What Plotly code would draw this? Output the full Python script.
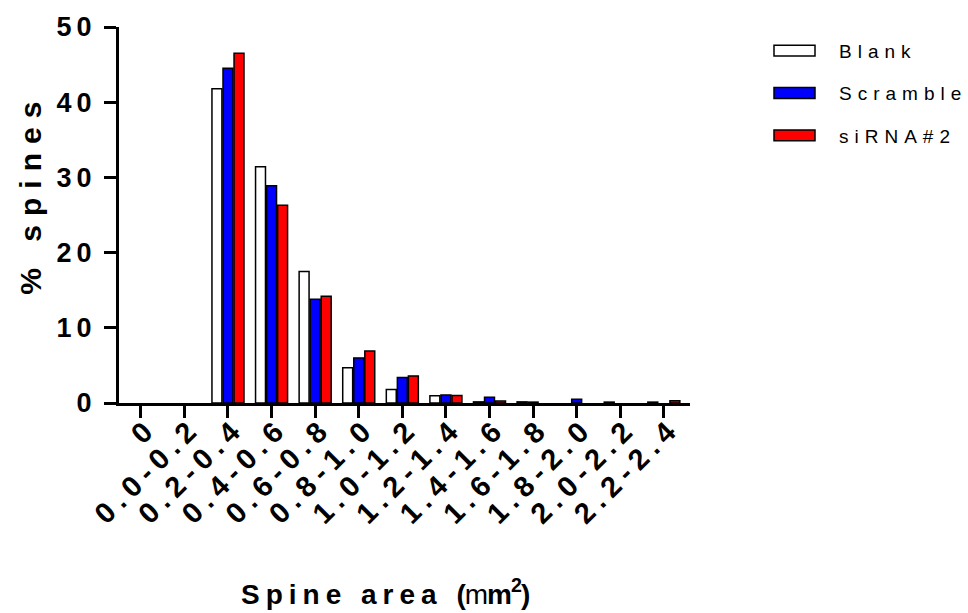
import plotly.graph_objects as go

categories = ["0", "0.0-0.2", "0.2-0.4", "0.4-0.6", "0.6-0.8", "0.8-1.0", "1.0-1.2",
              "1.2-1.4", "1.4-1.6", "1.6-1.8", "1.8-2.0", "2.0-2.2", "2.2-2.4"]
blank = [0, 0, 41.8, 31.4, 17.5, 4.7, 1.8, 0.95, 0.15, 0.15, 0, 0.12, 0.12]
scramble = [0, 0, 44.5, 28.9, 13.8, 6.0, 3.4, 1.05, 0.75, 0.12, 0.5, 0, 0]
sirna = [0, 0, 46.5, 26.3, 14.2, 6.9, 3.6, 1.0, 0.25, 0, 0, 0, 0.3]

series_names = ["Blank", "Scramble", "siRNA#2"]
series_colors = ["#ffffff", "#0000ff", "#ff0000"]
series_values = [blank, scramble, sirna]

y_ticks = [0, 10, 20, 30, 40, 50]

FONT = "Liberation Sans, Arial, sans-serif"
W, H = 968, 613
L, R, T, B = 119, 690, 24, 403
LEG_SP = 6


def px(x):
    return (x - L) / (R - L)


def py(y):
    return (B - y) / (B - T)


fig = go.Figure()
for name, color, vals in zip(series_names, series_colors, series_values):
    fig.add_trace(go.Bar(
        x=categories, y=vals, name=name,
        marker=dict(color=color,
                    line=dict(color="black",
                              width=[1.5 if v > 0 else 0 for v in vals])),
        showlegend=False,
    ))

# custom legend (wide boxes like the reference)
for i, (name, color) in enumerate(zip(series_names, series_colors)):
    yc = 47.8 + 42.7 * i
    fig.add_shape(type="rect", xref="paper", yref="paper",
                  x0=px(774), x1=px(815), y0=py(yc + 5.5), y1=py(yc - 5.5),
                  fillcolor=color, line=dict(color="black", width=1.5))
    fig.add_annotation(xref="paper", yref="paper",
                       x=px(836.5 + LEG_SP * len(name) / 2), y=py(yc + 1),
                       xanchor="left", yanchor="middle", showarrow=False,
                       text=name, font=dict(family=FONT, size=19, color="black"))

# axis titles (annotation indices 3 and 4)
fig.add_annotation(xref="paper", yref="paper", x=px(385), y=py(594),
                   xanchor="center", yanchor="middle", showarrow=False,
                   text="Spine area <span style='letter-spacing:-1px'>(<span style='font-weight:normal'>m</span>m<sup>2</sup>)</span>",
                   font=dict(family=FONT, size=28, color="black", weight="bold"))
fig.add_annotation(xref="paper", yref="paper", x=px(31), y=py(192),
                   xanchor="center", yanchor="middle", showarrow=False, textangle=-90,
                   text="% spines",
                   font=dict(family=FONT, size=30, color="black", weight="bold"))

fig.update_layout(
    width=W, height=H,
    margin=dict(l=L, r=W - R, t=T, b=H - B, pad=0),
    paper_bgcolor="white", plot_bgcolor="white",
    barmode="group", bargap=0.24, bargroupgap=0.1,
    font=dict(family=FONT, color="black"),
)
fig.update_xaxes(
    type="category", range=[-0.5, 12.6],
    showline=True, linewidth=3, linecolor="black",
    ticks="outside", ticklen=12, tickwidth=3, tickcolor="black",
    tickangle=-45, ticklabelstandoff=-19, ticklabelshift=8,
    tickfont=dict(family=FONT, size=29, color="black", weight="bold"),
    showgrid=False, zeroline=False,
)
fig.update_yaxes(
    range=[0, 50], tickvals=y_ticks,
    showline=True, linewidth=3, linecolor="black",
    ticks="outside", ticklen=12, tickwidth=3, tickcolor="black",
    ticklabelstandoff=2,
    tickfont=dict(family=FONT, size=27, color="black", weight="bold"),
    showgrid=False, zeroline=False,
)

post = """
document.body.style.margin='0';
var gd=document.getElementById('{plot_id}');
function ls(sel,v){gd.querySelectorAll(sel).forEach(function(t){t.style.letterSpacing=v;});}
ls('.xtick text','6.5px');
ls('.ytick text','5px');
ls('.annotation text','""" + str(LEG_SP) + """px');
ls('.annotation[data-index="4"] text','9px');
gd.querySelectorAll('text').forEach(function(t){if(!t.textContent.trim()){t.remove();}});
var tester=document.getElementById('js-plotly-tester');
if(tester){tester.querySelectorAll('text').forEach(function(t){t.remove();});}
"""
fig.write_html("out.html", post_script=post, config={"displayModeBar": False})
